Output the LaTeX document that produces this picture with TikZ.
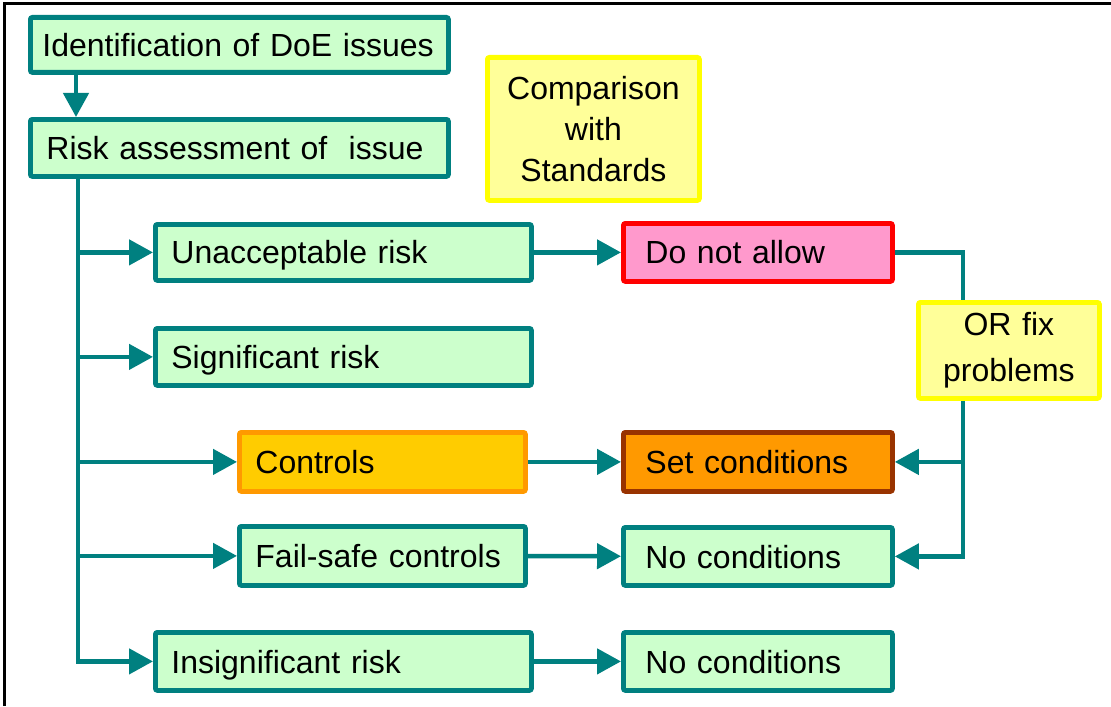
\documentclass[tikz,border=0pt]{standalone}
\usepackage{fontspec}
\setmainfont{Liberation Sans}
\usetikzlibrary{arrows.meta}

\definecolor{riskteal}{HTML}{008080}
\definecolor{riskgreen}{HTML}{CCFFCC}
\definecolor{noteyellow}{HTML}{FFFF00}
\definecolor{notefill}{HTML}{FFFF99}
\definecolor{ctrlfill}{HTML}{FFCC00}
\definecolor{ctrldraw}{HTML}{FF9900}
\definecolor{denyfill}{HTML}{FF99CC}
\definecolor{denydraw}{HTML}{FF0000}
\definecolor{setfill}{HTML}{FF9900}
\definecolor{setdraw}{HTML}{993300}

\tikzset{
	base/.style={draw=riskteal, fill=riskgreen, line width=2.4pt, rounded corners=1pt,
		anchor=north west, inner xsep=8pt, font=\fontsize{16}{19}\selectfont},
	box/.style={base, align=left, text depth=0pt},
	note/.style={base, draw=noteyellow, fill=notefill, align=center},
	result/.style={box, inner xsep=11pt, text width=112.5pt},
	link/.style={draw=riskteal, line width=2.3pt},
	arrow/.style={link, -{Triangle[length=12pt,width=12.5pt]}}
}

\begin{document}
\begin{tikzpicture}[x=0.5pt,y=-0.5pt]
			\useasboundingbox (0,0) rectangle (1111,706);
			\draw[line width=1.5pt] (4,706) -- (4,4) -- (1111,4); % frame

			\begin{scope}
				\node[box, inner xsep=6pt, text width=197pt, minimum height=27.5pt] (ident) at (28,15) {Identification of DoE issues};
				\node[box, text width=193pt, minimum height=28.5pt] (risk) at (28,117) {Risk assessment of~ issue};
				\node[note, text width=90pt, minimum height=71.5pt, font=\fontsize{16}{20.5}\selectfont] (comp) at (485,55) {Comparison\\with\\Standards};

				\node[box, text width=172pt, minimum height=28pt] (unacc) at (153,222) {Unacceptable risk};
				\node[box, text width=172pt, minimum height=28.5pt] (signif) at (153,326) {Significant risk};
				\node[box, text width=127pt, minimum height=29.5pt, draw=ctrldraw, fill=ctrlfill] (ctrl) at (237,430) {Controls};
				\node[box, text width=127pt, minimum height=29.5pt] (failsafe) at (237,524) {Fail-safe controls};
				\node[box, text width=172pt, minimum height=29pt] (insig) at (153,630) {Insignificant risk};

				\node[result, minimum height=29pt, draw=denydraw, fill=denyfill] (deny) at (621,221) {Do not allow};
				\node[result, minimum height=29.5pt, draw=setdraw, fill=setfill] (setc) at (621,430) {Set conditions};
				\node[result, minimum height=29pt] (nocondA) at (621,525) {No conditions};
				\node[result, minimum height=29pt] (nocondB) at (621,630) {No conditions};
				\node[note, text width=74.5pt, minimum height=48pt, font=\fontsize{16}{23}\selectfont] (fix) at (916,300) {OR fix\\problems};

				\coordinate (top) at (76,0);
				\coordinate (trunk) at (78,0);
				\coordinate (rail) at (963,0);

				\draw[arrow] (ident.south -| top) -- (risk.north -| top); % issues to assessment
				\draw[arrow] (risk.south -| trunk) |- (insig.west); % trunk
				\draw[arrow] (unacc.west -| trunk) -- (unacc.west);
				\draw[arrow] (signif.west -| trunk) -- (signif.west);
				\draw[arrow] (ctrl.west -| trunk) -- (ctrl.west);
				\draw[arrow] (failsafe.west -| trunk) -- (failsafe.west);

				\draw[arrow] (unacc) -- (deny);
				\draw[arrow] (ctrl) -- (setc);
				\draw[arrow] (failsafe) -- (nocondA);
				\draw[arrow] (insig) -- (nocondB);

				\draw[link] (deny.east) -| (fix.north -| rail); % back to fix
				\draw[arrow] (fix.south -| rail) |- (nocondA.east);
				\draw[arrow] (setc.east -| rail) -- (setc.east);
			\end{scope}
		\end{tikzpicture}
\end{document}
